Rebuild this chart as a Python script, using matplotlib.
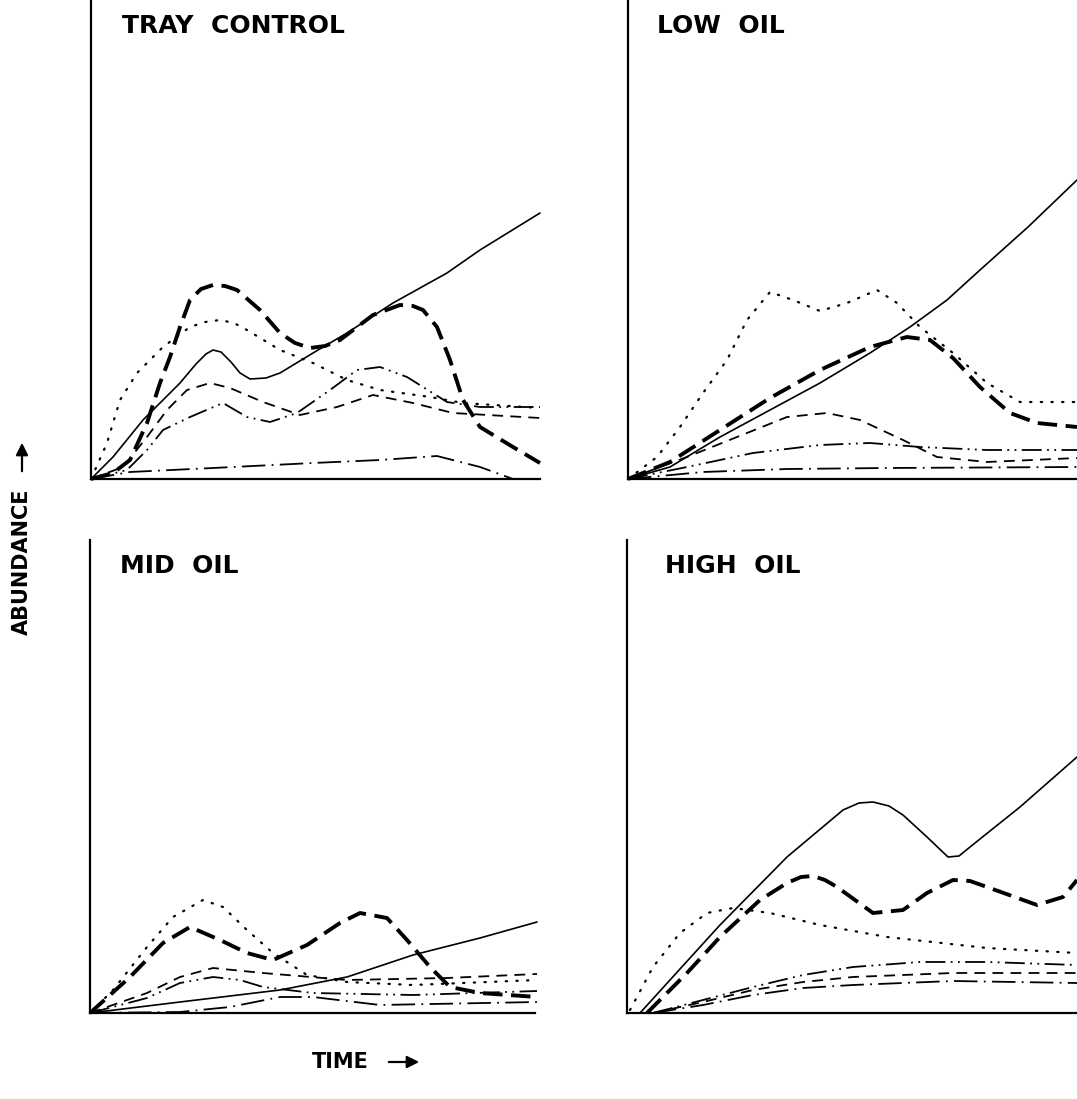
import matplotlib
matplotlib.use('Agg')
import matplotlib.pyplot as plt

W, H = 1077, 1099

# --- data (x: distance along time axis, y: abundance) ---
# TRAY CONTROL
tc_solid_x = [0, 22, 52, 89, 105, 115, 122, 130, 140, 149, 159, 175, 189, 222, 256, 302, 356, 389, 449]
tc_solid_y = [0, 22, 59, 96, 115, 125, 129, 127, 117, 106, 100, 101, 106, 126, 146, 176, 206, 229, 266]
tc_heavy_x = [0, 22, 39, 56, 69, 79, 89, 99, 110, 122, 134, 146, 169, 189, 204, 219, 234, 249, 282, 309, 322, 332, 346, 359, 372, 389, 422, 449]
tc_heavy_y = [0, 6, 19, 56, 96, 122, 152, 179, 190, 194, 193, 189, 169, 146, 136, 131, 133, 139, 164, 174, 173, 169, 152, 119, 79, 52, 32, 16]
tc_dot_x = [0, 16, 29, 46, 72, 99, 114, 129, 143, 156, 189, 222, 256, 289, 339, 372, 449]
tc_dot_y = [0, 36, 79, 106, 132, 152, 157, 159, 156, 149, 129, 116, 99, 89, 82, 76, 71]
tc_dash_x = [0, 32, 56, 76, 96, 119, 139, 172, 209, 246, 282, 322, 362, 449]
tc_dash_y = [0, 12, 42, 69, 89, 96, 91, 77, 64, 72, 84, 76, 66, 61]
tc_ddd_x = [0, 36, 56, 72, 99, 132, 156, 179, 206, 239, 266, 289, 316, 356, 389, 449]
tc_ddd_y = [0, 9, 29, 49, 62, 76, 62, 57, 66, 89, 109, 112, 102, 77, 72, 72]
tc_dd_x = [0, 39, 122, 222, 289, 346, 389, 422]
tc_dd_y = [0, 7, 11, 16, 19, 23, 12, 0]

# LOW OIL
lo_solid_x = [0, 42, 92, 142, 192, 242, 282, 319, 352, 400, 449]
lo_solid_y = [0, 12, 42, 69, 96, 126, 152, 179, 209, 252, 299]
lo_heavy_x = [0, 42, 92, 142, 192, 242, 279, 302, 325, 352, 382, 409, 449]
lo_heavy_y = [0, 17, 49, 81, 109, 132, 142, 139, 121, 92, 66, 56, 52]
lo_dot_x = [0, 29, 52, 75, 99, 119, 142, 165, 192, 219, 249, 269, 292, 325, 359, 392, 449]
lo_dot_y = [0, 22, 52, 86, 119, 159, 187, 179, 168, 176, 189, 176, 152, 126, 96, 77, 77]
lo_dash_x = [0, 59, 109, 159, 199, 232, 275, 309, 359, 449]
lo_dash_y = [0, 22, 42, 62, 66, 59, 39, 22, 17, 21]
lo_ddd_x = [0, 59, 125, 192, 242, 292, 359, 449]
lo_ddd_y = [0, 12, 26, 34, 36, 32, 29, 29]
lo_dd_x = [0, 75, 159, 259, 449]
lo_dd_y = [0, 7, 10, 11, 12]

# MID OIL
mo_solid_x = [0, 90, 190, 257, 323, 390, 447]
mo_solid_y = [0, 11, 23, 36, 58, 75, 91]
mo_heavy_x = [0, 40, 73, 100, 130, 157, 183, 217, 250, 270, 297, 317, 340, 360, 390, 447]
mo_heavy_y = [0, 36, 70, 86, 73, 60, 53, 68, 90, 100, 95, 73, 46, 26, 20, 16]
mo_dot_x = [0, 23, 57, 83, 113, 133, 157, 183, 217, 257, 323, 447]
mo_dot_y = [0, 23, 66, 96, 113, 106, 83, 60, 38, 31, 28, 33]
mo_dash_x = [0, 57, 90, 123, 173, 257, 357, 447]
mo_dash_y = [0, 20, 36, 45, 40, 33, 35, 39]
mo_ddd_x = [0, 57, 90, 123, 150, 173, 223, 323, 447]
mo_ddd_y = [0, 15, 30, 36, 33, 26, 20, 18, 22]
mo_dd_x = [0, 90, 140, 190, 223, 290, 447]
mo_dd_y = [0, 1, 6, 16, 16, 8, 11]

# HIGH OIL
ho_solid_x = [13, 93, 160, 216, 232, 246, 262, 276, 300, 321, 332, 343, 393, 450]
ho_solid_y = [0, 88, 156, 203, 210, 211, 207, 198, 176, 156, 157, 166, 206, 256]
ho_heavy_x = [20, 60, 93, 133, 160, 174, 186, 198, 210, 246, 276, 300, 326, 343, 360, 410, 436, 450]
ho_heavy_y = [0, 40, 76, 113, 130, 136, 137, 133, 126, 100, 103, 120, 133, 132, 126, 108, 116, 133]
ho_dot_x = [3, 26, 53, 80, 106, 143, 193, 260, 360, 450]
ho_dot_y = [3, 46, 80, 100, 105, 100, 88, 76, 65, 60]
ho_dash_x = [26, 76, 126, 176, 226, 326, 450]
ho_dash_y = [0, 11, 23, 31, 36, 40, 40]
ho_ddd_x = [26, 76, 126, 176, 226, 293, 360, 450]
ho_ddd_y = [0, 13, 26, 38, 46, 51, 51, 48]
ho_dd_x = [26, 76, 126, 176, 226, 326, 450]
ho_dd_y = [0, 8, 18, 25, 28, 32, 30]

titles = ['TRAY  CONTROL', 'LOW  OIL', 'MID  OIL', 'HIGH  OIL']

# line styles: (linewidth, dash pattern)
styles = {
    'solid': dict(lw=1.2, ls='-'),
    'heavy': dict(lw=2.8, dashes=(5, 2.2)),
    'dot': dict(lw=1.6, dashes=(0.6, 4.2), dash_capstyle='round'),
    'dash': dict(lw=1.3, dashes=(6, 4)),
    'ddd': dict(lw=1.3, dashes=(11, 3, 1, 3, 1, 3)),
    'dd': dict(lw=1.3, dashes=(13, 3.5, 1, 3.5)),
}

panels = [
    # left, top, width, height (pixels), title position
    ((91, 0, 449, 479), (122, 33), [
        ('solid', tc_solid_x, tc_solid_y), ('heavy', tc_heavy_x, tc_heavy_y),
        ('dot', tc_dot_x, tc_dot_y), ('dash', tc_dash_x, tc_dash_y),
        ('ddd', tc_ddd_x, tc_ddd_y), ('dd', tc_dd_x, tc_dd_y)]),
    ((628, 0, 449, 479), (657, 33), [
        ('solid', lo_solid_x, lo_solid_y), ('heavy', lo_heavy_x, lo_heavy_y),
        ('dot', lo_dot_x, lo_dot_y), ('dash', lo_dash_x, lo_dash_y),
        ('ddd', lo_ddd_x, lo_ddd_y), ('dd', lo_dd_x, lo_dd_y)]),
    ((90, 540, 445, 473), (120, 573), [
        ('solid', mo_solid_x, mo_solid_y), ('heavy', mo_heavy_x, mo_heavy_y),
        ('dot', mo_dot_x, mo_dot_y), ('dash', mo_dash_x, mo_dash_y),
        ('ddd', mo_ddd_x, mo_ddd_y), ('dd', mo_dd_x, mo_dd_y)]),
    ((627, 540, 450, 473), (665, 573), [
        ('solid', ho_solid_x, ho_solid_y), ('heavy', ho_heavy_x, ho_heavy_y),
        ('dot', ho_dot_x, ho_dot_y), ('dash', ho_dash_x, ho_dash_y),
        ('ddd', ho_ddd_x, ho_ddd_y), ('dd', ho_dd_x, ho_dd_y)]),
]

fig = plt.figure(figsize=(W / 100, H / 100), dpi=100)

for (box, tpos, series), title in zip(panels, titles):
    l, t, w, h = box
    ax = fig.add_axes([l / W, 1 - (t + h) / H, w / W, h / H])
    for key, xs, ys in series:
        ax.plot(xs, ys, color='black', solid_capstyle='round', solid_joinstyle='round',
                dash_joinstyle='round', clip_on=False, **styles[key])
    ax.set_xlim(0, w)
    ax.set_ylim(0, h)
    for s in ['top', 'right']:
        ax.spines[s].set_visible(False)
    for s in ['left', 'bottom']:
        ax.spines[s].set_linewidth(1.6)
    ax.set_xticks([])
    ax.set_yticks([])
    fig.text(tpos[0] / W, 1 - tpos[1] / H, title, fontsize=18, fontweight='bold',
             family='DejaVu Sans', va='baseline', ha='left')

# axis labels with arrows
fig.text(22 / W, 1 - 562 / H, 'ABUNDANCE', rotation=90, fontsize=15, fontweight='bold',
         va='center', ha='center')
fig.add_artist(matplotlib.patches.FancyArrowPatch((22 / W, 1 - 474 / H), (22 / W, 1 - 440 / H),
                                                  transform=fig.transFigure, arrowstyle='-|>',
                                                  mutation_scale=18, lw=1.6, color='black'))
fig.text(340 / W, 1 - 1068 / H, 'TIME', fontsize=15, fontweight='bold', va='baseline', ha='center')
fig.add_artist(matplotlib.patches.FancyArrowPatch((386 / W, 1 - 1062 / H), (422 / W, 1 - 1062 / H),
                                                  transform=fig.transFigure, arrowstyle='-|>',
                                                  mutation_scale=18, lw=1.6, color='black'))

fig.savefig('out.png', dpi=100, facecolor='white')
